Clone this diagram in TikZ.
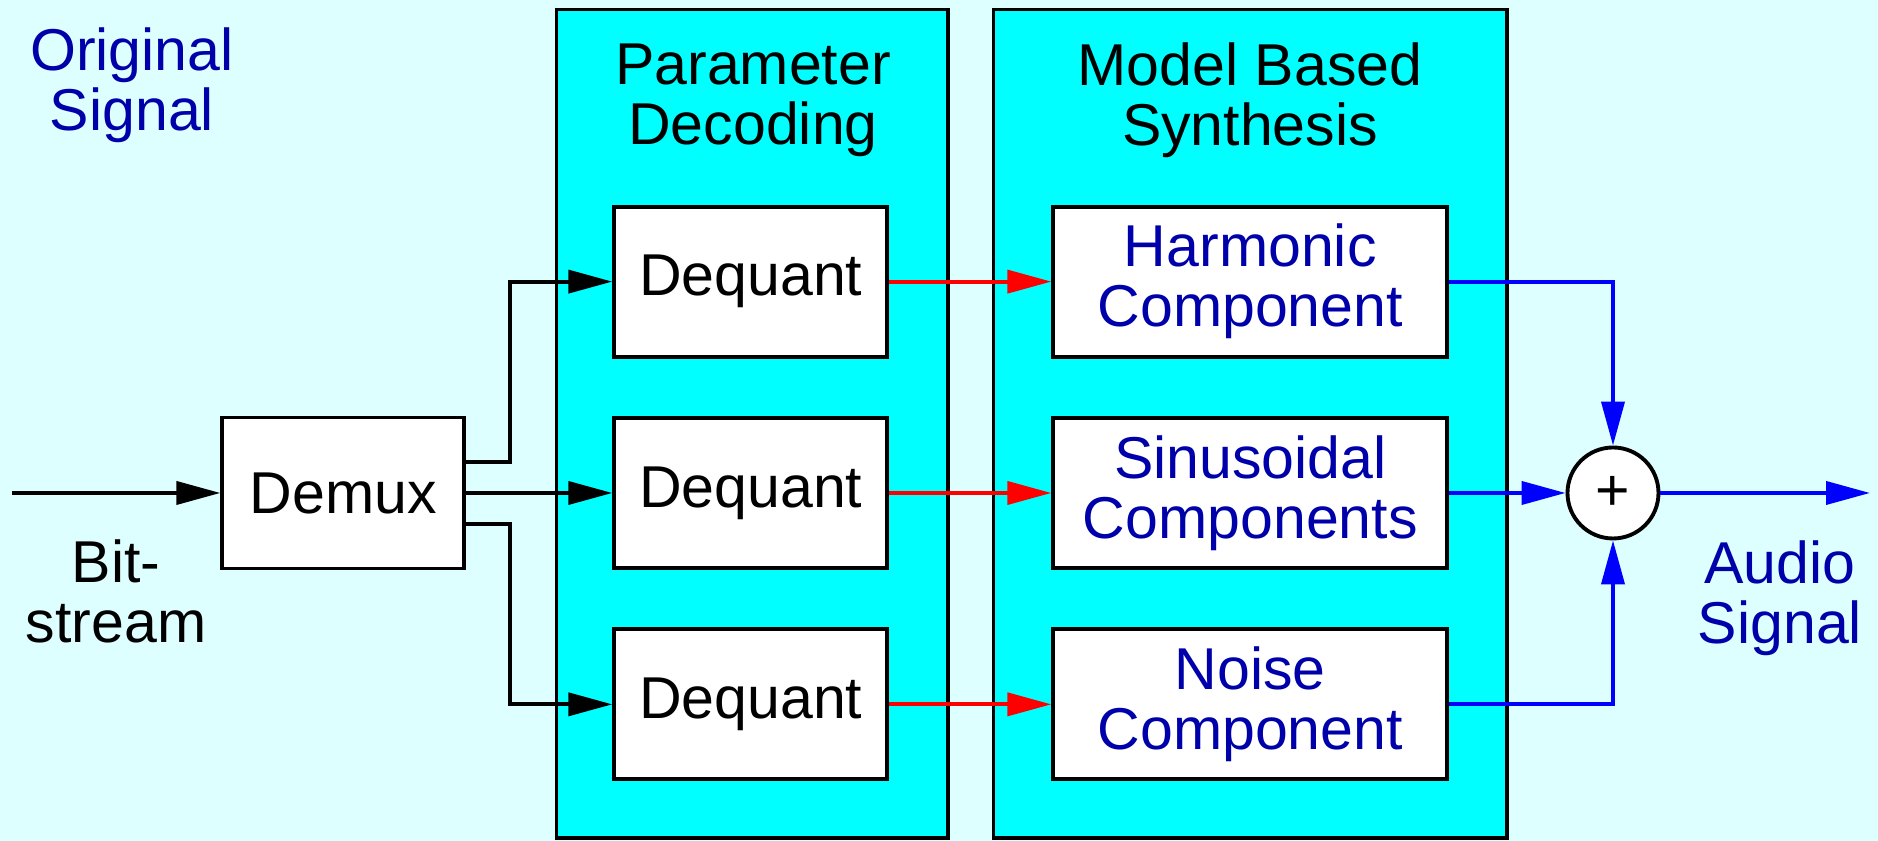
\documentclass[tikz,border=0pt]{standalone}
\usepackage{fontspec}
\setmainfont{Liberation Sans}
\usetikzlibrary{positioning,arrows.meta}
\definecolor{palecyan}{RGB}{221,255,255}
\definecolor{panelcyan}{RGB}{0,255,255}
\definecolor{darkblue}{RGB}{0,0,170}
\definecolor{wireblue}{RGB}{0,0,255}
\begin{document}
\begin{tikzpicture}[>={Triangle[length=4.4mm,width=2.3mm]}, line width=1.1pt,
    font=\fontsize{16.8}{17.07}\selectfont,
    block/.style={draw, fill=white, minimum height=1.5cm, inner sep=0pt, align=center},
    stage/.style={draw, fill=panelcyan},
    plaintext/.style={align=center, inner sep=0pt}]
\fill[palecyan] (0,0) rectangle (18.78,8.41);
\useasboundingbox (0,0) rectangle (18.78,8.41);
\draw[stage] (5.565,0.03) rectangle (9.48,8.315);
\draw[stage] (9.935,0.03) rectangle (15.07,8.315);
\node[plaintext, text=darkblue] (orig) at (1.32,7.555) {Original\\Signal};
\node[plaintext] (dectitle) at (7.53,7.41) {Parameter\\Decoding};
\node[plaintext] (syntitle) at (12.50,7.41) {Model Based\\Synthesis};
\node[block, minimum width=2.42cm, minimum height=1.51cm] (demux) at (3.433,3.48) {Demux};
\node[block, minimum width=2.73cm] (deq2) at (7.507,3.48) {Dequant};
\node[block, minimum width=2.73cm, above=0.575cm of deq2] (deq1) {Dequant};
\node[block, minimum width=2.73cm, below=0.575cm of deq2] (deq3) {Dequant};
\node[block, minimum width=3.94cm, text=darkblue, right=1.622cm of deq1] (harm) {Harmonic\\Component};
\node[block, minimum width=3.94cm, text=darkblue, right=1.622cm of deq2] (sinus) {Sinusoidal\\Components};
\node[block, minimum width=3.94cm, text=darkblue, right=1.622cm of deq3] (noise) {Noise\\Component};
\node[draw, circle, fill=white, minimum size=0.91cm, inner sep=0pt] (sum) at (16.13,3.48) {+};
\node[plaintext] (bits) at (1.16,2.495) {Bit-\\stream};
\node[plaintext, text=darkblue] (audio) at (17.80,2.43) {Audio\\Signal};
\coordinate (bitin) at (0.12,3.48);
\coordinate (audioout) at (18.70,3.48);
\draw[->] (bitin) -- (demux);
\draw[->] ([yshift=0.31cm]demux.east) -| ([xshift=-1.02cm]deq1.west) -- (deq1);
\draw[->] (demux) -- (deq2);
\draw[->] ([yshift=-0.31cm]demux.east) -| ([xshift=-1.02cm]deq3.west) -- (deq3);
\draw[->, red] (deq1) -- (harm);
\draw[->, red] (deq2) -- (sinus);
\draw[->, red] (deq3) -- (noise);
\draw[->, wireblue] (harm) -| (sum);
\draw[->, wireblue] (sinus) -- (sum);
\draw[->, wireblue] (noise) -| (sum);
\draw[->, wireblue] (sum) -- (audioout);
\end{tikzpicture}
\end{document}
